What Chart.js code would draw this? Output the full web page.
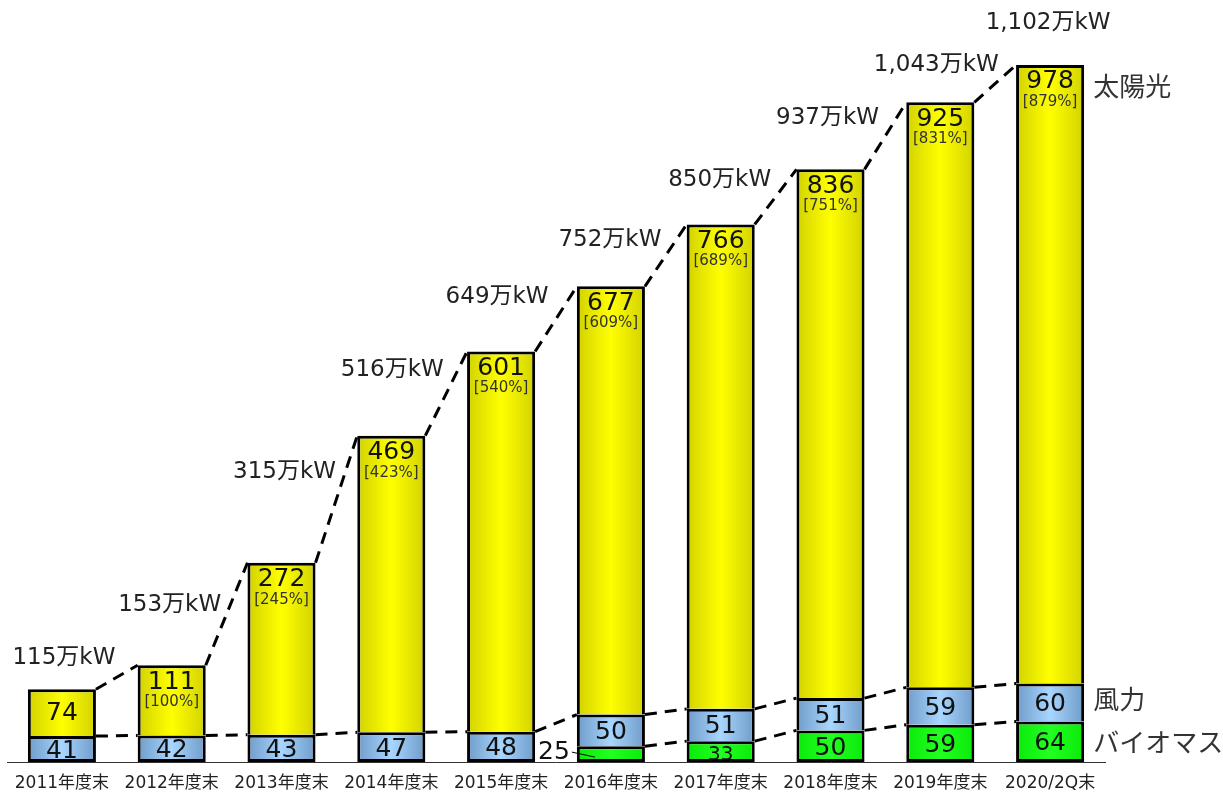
<!DOCTYPE html>
<html>
<head>
<meta charset="utf-8">
<script src="https://cdn.jsdelivr.net/npm/chart.js@4.4.0/dist/chart.umd.min.js"></script>
<style>
  html, body { margin: 0; padding: 0; background: #fff; }
  #wrap { width: 1223px; height: 792px; }
</style>
</head>
<body>
<div id="wrap"><canvas id="renewChart"></canvas></div>
<script>
var years = ["2011年度末", "2012年度末", "2013年度末", "2014年度末", "2015年度末",
             "2016年度末", "2017年度末", "2018年度末", "2019年度末", "2020/2Q末"];
var biomass = [null, null, null, null, null, 25, 33, 50, 59, 64];
var wind = [41, 42, 43, 47, 48, 50, 51, 51, 59, 60];
var solar = [74, 111, 272, 469, 601, 677, 766, 836, 925, 978];
var totals = [115, 153, 315, 516, 649, 752, 850, 937, 1043, 1102];
var solarRatio = [null, 100, 245, 423, 540, 609, 689, 751, 831, 879];
var seriesNames = ["バイオマス", "風力", "太陽光"];

var BAR_PCT = 0.62;
var numFont = "25px 'DejaVu Sans', 'Noto Sans CJK JP', sans-serif";

// horizontal shading, darker at the bar edges
function barGradient(edge, mid) {
  return function (c) {
    var chart = c.chart;
    if (!chart.chartArea) return mid;
    var xs = chart.scales.x;
    var cx = xs.getPixelForValue(c.dataIndex);
    var half = xs.width / years.length * BAR_PCT / 2;
    var g = chart.ctx.createLinearGradient(cx - half, 0, cx + half, 0);
    g.addColorStop(0, edge);
    g.addColorStop(0.5, mid);
    g.addColorStop(1, edge);
    return g;
  };
}

var overlay = {
  id: "overlay",
  afterDatasetsDraw: function (chart, args, opts) {
    var ctx = chart.ctx;
    var bio = chart.getDatasetMeta(0).data;
    var wnd = chart.getDatasetMeta(1).data;
    var sol = chart.getDatasetMeta(2).data;
    var firstBio = biomass.findIndex(function (v) { return v != null; });

    ctx.save();
    // dashed connectors between bar tops
    ctx.strokeStyle = "#000";
    ctx.lineWidth = 3;
    ctx.setLineDash([12, 8]);
    function link(bars, from) {
      for (var i = from; i < bars.length - 1; i++) {
        var a = bars[i], b = bars[i + 1];
        ctx.beginPath();
        ctx.moveTo(a.x + a.width / 2, a.y);
        ctx.lineTo(b.x - b.width / 2, b.y);
        ctx.stroke();
      }
    }
    link(sol, 0);
    link(wnd, 0);
    link(bio, firstBio);
    ctx.setLineDash([]);

    ctx.textAlign = "center";
    ctx.textBaseline = "middle";

    // category labels under the axis line
    var xs = chart.scales.x;
    ctx.font = "17px 'DejaVu Sans', 'Noto Sans CJK JP', sans-serif";
    ctx.fillStyle = "#222";
    years.forEach(function (y, i) {
      ctx.fillText(y, xs.getPixelForValue(i), chart.chartArea.bottom + 22);
    });
    ctx.fillStyle = "#111";

    // solar values + ratio
    sol.forEach(function (el, i) {
      ctx.font = numFont;
      if (solarRatio[i] == null) {
        ctx.fillText(solar[i], el.x, (el.y + el.base) / 2 + 1);
      } else {
        ctx.fillText(solar[i], el.x, el.y + 17);
        ctx.font = "15px 'DejaVu Sans', sans-serif";
        ctx.fillStyle = "#333";
        ctx.fillText("[" + solarRatio[i] + "%]", el.x, el.y + 37);
        ctx.fillStyle = "#111";
      }
    });

    // wind values
    ctx.font = numFont;
    wnd.forEach(function (el, i) {
      ctx.fillText(wind[i], el.x, (el.y + el.base) / 2 + 2);
    });

    // biomass values
    bio.forEach(function (el, i) {
      if (biomass[i] == null) return;
      var h = el.base - el.y;
      var cy = (el.y + el.base) / 2 + 1;
      if (h < 18) {
        var left = el.x - el.width / 2;
        ctx.font = numFont;
        ctx.textAlign = "right";
        ctx.fillText(biomass[i], left - 7, cy - 3);
        ctx.lineWidth = 1;
        ctx.beginPath();
        ctx.moveTo(left - 5, cy - 3);
        ctx.lineTo(left + 18, cy + 2);
        ctx.stroke();
        ctx.textAlign = "center";
      } else if (h < 24) {
        ctx.font = "20px 'DejaVu Sans', sans-serif";
        ctx.fillText(biomass[i], el.x, cy + 2);
      } else {
        ctx.font = numFont;
        ctx.fillText(biomass[i], el.x, cy + 1);
      }
    });

    // totals above the bars
    ctx.font = "23px 'DejaVu Sans', 'Noto Sans CJK JP', sans-serif";
    ctx.fillStyle = "#222";
    sol.forEach(function (el, i) {
      var txt = totals[i].toLocaleString("en-US") + "万kW";
      ctx.fillText(txt, el.x + (opts.shift[i] || 0), el.y - opts.lift[i]);
    });

    // series names on the right
    var last = sol.length - 1;
    var lx = sol[last].x + sol[last].width / 2 + 9;
    ctx.textAlign = "left";
    ctx.fillStyle = "#333";
    ctx.font = "26px 'Noto Sans CJK JP', sans-serif";
    ctx.fillText(seriesNames[2], lx, sol[last].y + 21);
    ctx.fillText(seriesNames[1], lx, (wnd[last].y + wnd[last].base) / 2 - 3);
    ctx.fillText(seriesNames[0], lx, (bio[last].y + bio[last].base) / 2);
    ctx.restore();
  }
};

new Chart("renewChart", {
  type: "bar",
  data: {
    labels: years,
    datasets: [
      {
        label: seriesNames[0],
        data: biomass,
        backgroundColor: barGradient("#0aea0a", "#22ff22"),
        borderColor: "#000",
        borderWidth: { top: 3, left: 3, right: 3, bottom: 3 },
      },
      {
        label: seriesNames[1],
        data: wind,
        backgroundColor: barGradient("#6f9bc8", "#a8d6ff"),
        borderColor: "#000",
        borderWidth: function (c) {
          return { top: 3, left: 3, right: 3, bottom: biomass[c.dataIndex] ? 0 : 3 };
        },
      },
      {
        label: seriesNames[2],
        data: solar,
        backgroundColor: barGradient("#d2d200", "#ffff00"),
        borderColor: "#000",
        borderWidth: { top: 3, left: 3, right: 3, bottom: 0 },
      },
    ],
  },
  options: {
    responsive: true,
    maintainAspectRatio: false,
    animation: false,
    layout: { padding: { left: 7, right: 118, top: 3, bottom: 30 } },
    datasets: { bar: { barPercentage: BAR_PCT, categoryPercentage: 1, borderSkipped: false } },
    plugins: {
      legend: { display: false },
      tooltip: { enabled: false },
      overlay: {
        lift: [31, 60, 91, 66, 54, 46, 44, 51, 37, 42],
        shift: [2, -2, 3, 1, -4, -1, -1, -3, -4, -2],
      },
    },
    scales: {
      x: {
        stacked: true,
        grid: { display: false, drawTicks: false },
        border: { display: true, color: "#333", width: 1 },
        ticks: { display: false },
      },
      y: { stacked: true, display: false, min: 0, max: 1200 },
    },
  },
  plugins: [overlay],
});
</script>
</body>
</html>
